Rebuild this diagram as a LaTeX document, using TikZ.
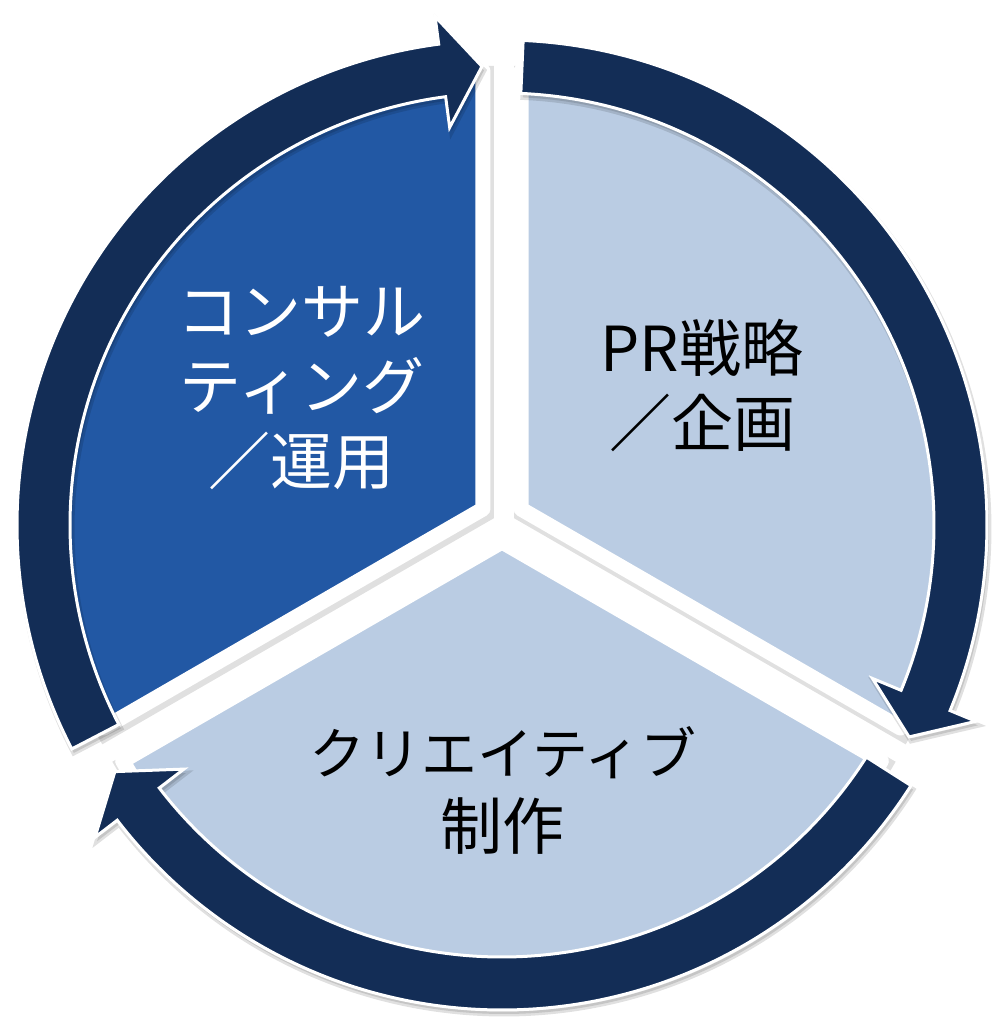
\documentclass[tikz,border=0pt]{standalone}
\usepackage{fontspec}
\newfontfamily\jpfont{Noto Sans CJK JP}
\usetikzlibrary{calc}
\definecolor{ringnavy}{RGB}{19,45,86}
\definecolor{segblue}{RGB}{34,88,164}
\definecolor{seglight}{RGB}{186,204,227}
\tikzset{
    % Shadows
    soft shadow/.style={preaction={draw=black,fill=black,line width=#1,opacity=0.12,transform canvas={shift={(2pt,-4pt)}}}},
    soft shadow/.default=4pt,
    %
    % Pie segments and ring arrows
    sector/.style={fill=#1,draw=white,line width=15pt,line join=round,soft shadow=18pt},
    cycle arrow/.style={fill=ringnavy,draw=white,line width=3pt,line join=miter,soft shadow=5pt},
    %
    % Texts
    seg text/.style={font=\jpfont\fontsize{62}{75}\selectfont,align=center,inner sep=0pt}
}

\begin{document}
\begin{tikzpicture}[x=1pt,y=1pt]
    \useasboundingbox (-502,-508) rectangle (504,525);
    % segments
    \foreach \a/\c in {90/segblue,-30/seglight,210/seglight}{
        \path[sector=\c,shift={({\a+60}:22)}] (0,5) -- ++(\a:438) arc[start angle=\a,end angle=\a+120,radius=438] -- cycle;
    }
    % ring arrows
    \foreach \s/\t in {207.5/92.5,87.5/-27.5,327.5/212.5}{
        \path[cycle arrow] (\s:485) arc[start angle=\s,end angle=\t+5,radius=485]
            -- ({\t+5}:513) -- (\t:459) -- ({\t+5}:401) -- ({\t+5}:432)
            arc[start angle=\t+5,end angle=\s,radius=432] -- cycle;
    }
    % texts
    \node[seg text,text=white] (consult) at (-200,137) {コンサル\\ティング\\／運用};
    \node[seg text] (strategy) at (200,139) {PR戦略\\／企画};
    \node[seg text,font=\jpfont\fontsize{56}{75}\selectfont] (creative) at (1,-265) {クリエイティブ\\{\fontsize{62}{75}\selectfont 制作}};
\end{tikzpicture}
\end{document}
